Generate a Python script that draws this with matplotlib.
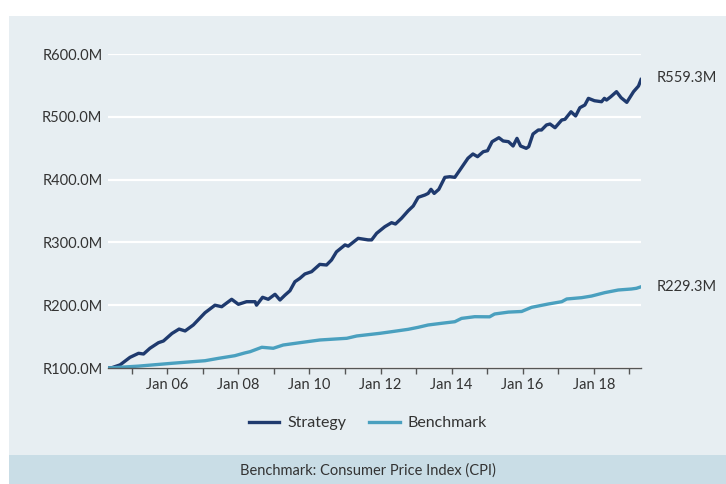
import matplotlib.pyplot as plt
from matplotlib.patches import Rectangle
from matplotlib.ticker import FuncFormatter

# Growth of R100M: strategy vs CPI benchmark (in R millions)

strategy_years = [2004.33, 2004.44, 2004.67, 2004.95, 2005.19, 2005.33, 2005.51, 2005.75, 2005.89,
                  2006.13, 2006.33, 2006.50, 2006.73, 2007.06, 2007.34, 2007.53, 2007.81, 2008.00,
                  2008.23, 2008.47, 2008.51, 2008.68, 2008.84, 2009.03, 2009.17, 2009.31, 2009.45,
                  2009.59, 2009.73, 2009.87, 2010.06, 2010.29, 2010.48, 2010.62, 2010.76, 2011.00,
                  2011.09, 2011.37, 2011.65, 2011.75, 2011.89, 2012.12, 2012.31, 2012.42, 2012.59,
                  2012.78, 2012.92, 2013.06, 2013.25, 2013.34, 2013.42, 2013.51, 2013.64, 2013.81,
                  2013.95, 2014.09, 2014.23, 2014.46, 2014.60, 2014.73, 2014.89, 2015.01, 2015.14,
                  2015.33, 2015.45, 2015.60, 2015.73, 2015.84, 2015.94, 2016.10, 2016.17, 2016.29,
                  2016.44, 2016.53, 2016.67, 2016.77, 2016.91, 2017.10, 2017.19, 2017.36, 2017.49,
                  2017.61, 2017.75, 2017.85, 2018.02, 2018.22, 2018.30, 2018.36, 2018.48, 2018.64,
                  2018.77, 2018.93, 2019.12, 2019.26, 2019.33]
strategy_values = [100, 100.5, 105, 117, 123.4, 122.3, 131.4, 140.3, 143,
                   155, 162, 159, 168.5, 188, 200, 197.6, 209.4, 201.4,
                   205.6, 205.6, 200, 212.6, 209.4, 217.4, 208.3, 216, 223,
                   237.4, 242.8, 249.7, 253.4, 265, 264, 272, 285, 296,
                   294, 306.5, 304, 304, 314.5, 325, 331.4, 329.3, 338.4,
                   350.5, 358, 371.8, 375.5, 378, 384.5, 378, 384.5, 403.6,
                   404.6, 403.6, 415, 434, 440.8, 436.5, 444.4, 446, 460.4,
                   466.7, 461.5, 460.4, 453.5, 465.7, 453.5, 449.8, 452.4, 472.6,
                   479, 479, 487, 488.5, 482.6, 494.9, 496, 508, 501.3,
                   514.5, 518.8, 529.4, 525.6, 524, 529.4, 526.7, 532, 540,
                   530.4, 523, 540, 549, 559.3]

benchmark_years = [2004.33, 2005.19, 2006.13, 2006.69, 2007.06, 2007.44, 2007.90, 2008.18, 2008.33,
                   2008.66, 2008.98, 2009.26, 2009.73, 2010.29, 2011.05, 2011.33, 2011.98, 2012.31,
                   2012.78, 2013.06, 2013.34, 2013.72, 2014.09, 2014.28, 2014.65, 2015.07, 2015.21,
                   2015.60, 2015.97, 2016.25, 2016.72, 2017.10, 2017.24, 2017.66, 2017.94, 2018.31,
                   2018.69, 2019.06, 2019.20, 2019.33]
benchmark_values = [100, 103, 107.5, 110, 111.6, 115.4, 119.6, 124, 126,
                    133, 131.4, 136.6, 140.3, 144.6, 147.3, 151, 155.2, 157.8,
                    161.6, 164.8, 168.5, 171.2, 173.7, 179, 181.7, 181.5, 186,
                    189, 190, 196.6, 201.9, 205.6, 209.9, 212, 214.6, 220,
                    224.2, 225.8, 226.9, 229.3]

y_ticks = [100, 200, 300, 400, 500, 600]
x_label_years = [2006, 2008, 2010, 2012, 2014, 2016, 2018]
x_tick_years = list(range(2005, 2020))

navy = '#1f3a6e'
teal = '#4aa0bf'
text_col = '#333333'

plt.rcParams['font.family'] = ['Lato', 'DejaVu Sans']

fig = plt.figure(figsize=(7.26, 4.84), dpi=100)
fig.patch.set_facecolor('white')
# light grey panel and the blue footer strip, kept behind the axes
fig.patches.append(Rectangle((9 / 726, 29 / 484), 1, 439 / 484, transform=fig.transFigure,
                             facecolor='#e7eef2', edgecolor='none', zorder=-10))
fig.patches.append(Rectangle((9 / 726, 0), 1, 29 / 484, transform=fig.transFigure,
                             facecolor='#c9dde6', edgecolor='none', zorder=-10))

ax = fig.add_axes([108 / 726, 1 - 368 / 484, 533 / 726, 314 / 484])
ax.set_facecolor('none')

ax.plot(strategy_years, strategy_values, color=navy, lw=2.4, label='Strategy', solid_joinstyle='round')
ax.plot(benchmark_years, benchmark_values, color=teal, lw=2.4, label='Benchmark', solid_joinstyle='round')

ax.set_xlim(2004.33, 2019.33)
ax.set_ylim(100, 600)
ax.set_yticks(y_ticks)
ax.yaxis.set_major_formatter(FuncFormatter(lambda v, p: 'R{:.1f}M'.format(v)))
ax.grid(axis='y', color='white', lw=1.6)
ax.set_axisbelow(True)

ax.set_xticks(x_tick_years)
ax.set_xticklabels(['Jan {:02d}'.format(y % 100) if y in x_label_years else '' for y in x_tick_years])

for s in ['top', 'right', 'left']:
    ax.spines[s].set_visible(False)
ax.spines['bottom'].set_color('#555555')
ax.spines['bottom'].set_linewidth(1)

ax.tick_params(axis='y', length=0, pad=4, labelsize=10.5, labelcolor=text_col)
ax.tick_params(axis='x', length=4, width=1, color='#555555', pad=3, labelsize=10.5, labelcolor=text_col)

# end-of-line value labels
ax.annotate('R{:.1f}M'.format(strategy_values[-1]), xy=(strategy_years[-1], strategy_values[-1]),
            xytext=(11.5, 1), textcoords='offset points', va='center', ha='left', fontsize=10.5, color=text_col,
            annotation_clip=False)
ax.annotate('R{:.1f}M'.format(benchmark_values[-1]), xy=(benchmark_years[-1], benchmark_values[-1]),
            xytext=(11.5, 0), textcoords='offset points', va='center', ha='left', fontsize=10.5, color=text_col,
            annotation_clip=False)

fig.legend(loc='center', bbox_to_anchor=(368 / 726, 1 - 423 / 484), ncol=2, frameon=False,
           fontsize=11.5, handlelength=1.9, handletextpad=0.5, columnspacing=1.45, labelcolor=text_col)

fig.text(368 / 726, 1 - 471 / 484, 'Benchmark: Consumer Price Index (CPI)', ha='center', va='center',
         fontsize=10.5, color=text_col)

plt.savefig('out.png', dpi=100, facecolor=fig.get_facecolor())
